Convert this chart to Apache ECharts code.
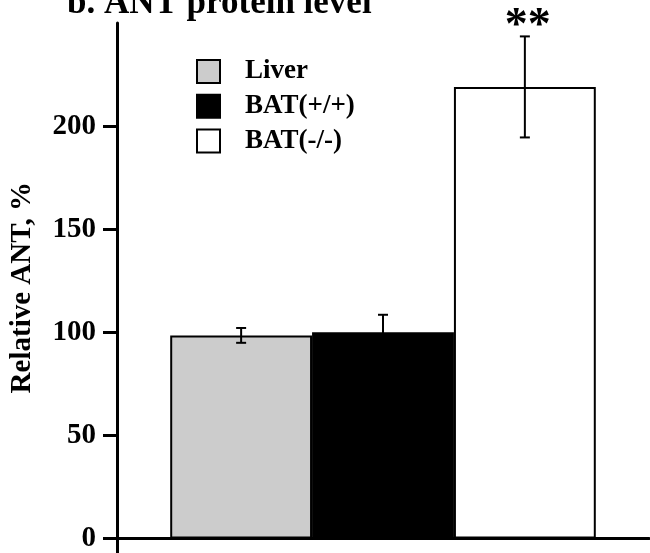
<!DOCTYPE html>
<html>
<head>
<meta charset="utf-8">
<script src="https://cdn.jsdelivr.net/npm/echarts@6/dist/echarts.min.js"></script>
<style>
  html, body { margin: 0; padding: 0; background: #fff; }
  #chart { width: 650px; height: 553px; }
</style>
</head>
<body>
<div id="chart"></div>
<script>
// 数据
var groups = ['Liver', 'BAT(+/+)', 'BAT(-/-)'];
var means = [98.5, 100, 219];
var errors = [3.6, 8.5, 24.5];
var marks = ['', '', '**'];
var colors = ['#cccccc', '#000000', '#ffffff'];
var yTicks = [0, 50, 100, 150, 200];

var serif = 'Liberation Serif';
var myChart = echarts.init(document.getElementById('chart'));

var barSeries = groups.map(function (name, i) {
    return {
        name: name,
        type: 'bar',
        data: [means[i]],
        barGap: '0%',
        barCategoryGap: '20%',
        itemStyle: {
            color: colors[i],
            borderColor: '#000',
            borderWidth: 2
        },
        z: 2
    };
});

var errData = groups.map(function (name, i) {
    return [0, means[i], errors[i], i];
});

var option = {
    animation: false,
    title: {
        text: 'b. ANT protein level',
        left: 62,
        top: -19,
        textStyle: { fontFamily: serif, fontSize: 35, fontWeight: 'bold', color: '#000' }
    },
    legend: {
        orient: 'vertical',
        left: 191,
        top: 53,
        icon: 'rect',
        itemWidth: 23,
        itemHeight: 23,
        itemGap: 7.7,
        data: groups,
        textStyle: {
            fontFamily: serif, fontSize: 27, fontWeight: 'bold', color: '#000',
            lineHeight: 23,
            padding: [0, 0, 0, 20]
        }
    },
    grid: {
        left: 117,
        right: 1,
        top: 23,
        bottom: 0
    },
    xAxis: {
        type: 'category',
        data: ['ANT'],
        axisLine: { onZero: true, lineStyle: { color: '#000', width: 3 } },
        axisTick: { show: false },
        axisLabel: { show: false }
    },
    yAxis: {
        type: 'value',
        min: -6.8,
        max: 250,
        name: 'Relative ANT, %',
        nameLocation: 'middle',
        nameGap: 80,
        nameTextStyle: { fontFamily: serif, fontSize: 29, fontWeight: 'bold', color: '#000' },
        axisLine: { show: true, lineStyle: { color: '#000', width: 3 } },
        axisTick: { show: true, length: 14, customValues: yTicks, lineStyle: { color: '#000', width: 3 } },
        axisLabel: {
            customValues: yTicks,
            margin: 21,
            fontFamily: serif, fontSize: 29, fontWeight: 'bold', color: '#000'
        },
        splitLine: { show: false }
    },
    series: barSeries.concat([{
        type: 'custom',
        name: 'err',
        data: errData,
        encode: { x: 0, y: 1 },
        z: 5,
        renderItem: function (params, api) {
            var mean = api.value(1);
            var err = api.value(2);
            var idx = api.value(3);
            var bw = api.size([1, 0])[0] * 0.8 / 3;
            var cx = api.coord([0, mean])[0] + (idx - 1) * bw;
            var yHi = api.coord([0, mean + err])[1];
            var yLo = api.coord([0, mean - err])[1];
            var cap = 5;
            var st = { stroke: '#000', lineWidth: 2 };
            var children = [
                { type: 'line', shape: { x1: cx, y1: yHi, x2: cx, y2: yLo }, style: st },
                { type: 'line', shape: { x1: cx - cap, y1: yHi, x2: cx + cap, y2: yHi }, style: st },
                { type: 'line', shape: { x1: cx - cap, y1: yLo, x2: cx + cap, y2: yLo }, style: st }
            ];
            var m = marks[idx];
            if (m) {
                children.push({
                    type: 'text',
                    style: {
                        text: m, x: cx + 3, y: yHi - 9,
                        align: 'center', verticalAlign: 'middle',
                        font: 'bold 46px ' + serif, fill: '#000'
                    }
                });
            }
            return { type: 'group', children: children };
        }
    }])
};
myChart.setOption(option);
</script>
</body>
</html>
